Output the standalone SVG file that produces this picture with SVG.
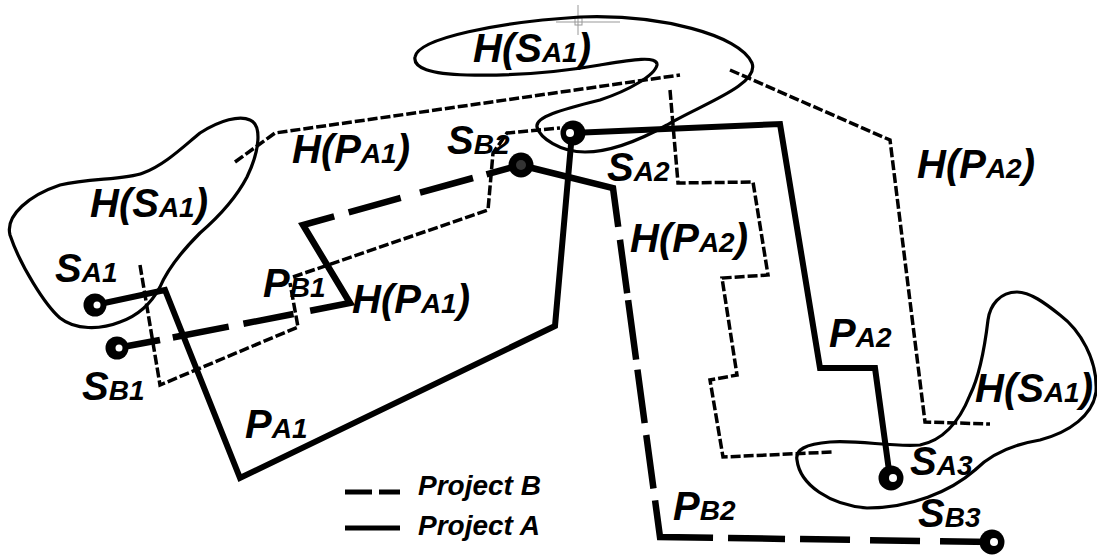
<svg xmlns="http://www.w3.org/2000/svg" width="1097" height="556" viewBox="0 0 1097 556">
<style>
.t{font-family:"Liberation Sans",Arial,sans-serif;font-weight:bold;font-style:italic;font-size:40px;fill:#000}
.s{font-size:28px}
.lg{font-family:"Liberation Sans",Arial,sans-serif;font-weight:bold;font-style:italic;font-size:28px;fill:#000}
.blob{fill:none;stroke:#000;stroke-width:3.2}
.hull{fill:none;stroke:#000;stroke-width:3.5;stroke-dasharray:10 3}
.pa{fill:none;stroke:#000;stroke-width:6;stroke-linejoin:miter}
.pb{fill:none;stroke:#000;stroke-width:6.5;stroke-linejoin:miter}
.node{fill:#000}
.dot{fill:#fff}
</style>
<rect width="1097" height="556" fill="#fff"/>
<g id="artifact" stroke="#999" stroke-width="1" fill="none">
<line x1="578" y1="5" x2="578" y2="35"/>
<line x1="556" y1="22" x2="620" y2="22"/>
<rect x="575" y="18" width="7" height="7"/>
</g>
<g id="hulls">
<path id="hs-left" class="blob" d="M250,120 C262,125 260,150 247,177 C235,200 215,220 200,233 C185,248 168,268 160,287 C152,302 140,315 120,322 C100,330 75,330 60,318 C45,305 20,265 10,235 C5,215 30,195 60,185 C90,178 125,180 143,173 C165,165 185,145 200,133 C220,120 240,115 250,120 Z"/>
<path id="hs-top" class="blob" d="M415,57 C418,38 500,22 580,17 C660,14 740,35 752,63 C760,85 700,105 667,125 C640,140 610,152 585,152 C560,152 540,138 537,127 C535,117 560,110 600,100 C630,90 655,75 657,65 C658,55 630,60 600,65 C560,72 510,76 467,75 C430,74 413,68 415,57 Z"/>
<path id="hs-right" class="blob" d="M1017,292 C1000,292 990,305 988,320 C985,345 980,375 970,395 C960,420 945,440 920,445 C890,447 860,440 830,442 C805,444 795,450 797,460 C800,485 830,505 867,508 C910,508 950,492 975,470 C990,455 1010,445 1040,440 C1070,432 1093,415 1096,392 C1098,360 1080,330 1060,315 C1045,303 1030,292 1017,292 Z"/>
<path id="hpa1-top" class="hull" d="M235,162 L275,133 L680,75"/>
<path id="hpa1-left" class="hull" d="M140,265 L160,385 L298,327 L290,283"/>
<path id="hpa1-right" class="hull" d="M293,277 L488,210 L493,153 L507,133 L560,128"/>
<path id="hpa2-outer" class="hull" d="M730,70 L890,140 L925,422 L990,424"/>
<path id="hpa2-inner" class="hull" d="M670,90 L678,183 L753,182 L768,275 L722,278 L737,375 L710,380 L723,457 L833,452"/>
</g>
<g id="connectors">
<path id="pa1" class="pa" d="M95,305 L165,290 L240,478 L555,326 L572,133"/>
<path id="pa2" class="pa" d="M572,133 L780,124 L820,368 L875,368 L890,478"/>
<path id="pb1-stub" class="pb" d="M117,348 L160,340"/>
<path id="pb1" class="pb" stroke-dasharray="0 13 57 15 51 17 164 15 54 20 55 14 200" d="M160,340 L350,303 L303,225 L520,165"/>
<path id="pb2" class="pb" stroke-dasharray="135 13 54 7 60 10 54 12 54 12 90 15 57 15 50 20 50 20 70" d="M520,165 L613,188 L660,537 L993,542"/>
</g>
<g id="SA1"><circle class="node" cx="95" cy="305" r="11.5"/><circle class="dot" cx="97" cy="305" r="3.5"/></g>
<g id="SB1"><circle class="node" cx="117" cy="348" r="11.5"/><circle class="dot" cx="119" cy="348" r="3.5"/></g>
<g id="SB2"><circle class="node" cx="521" cy="165" r="12.5"/><circle cx="521" cy="165" r="5" fill="#333"/></g>
<g id="SA2"><circle class="node" cx="573" cy="133" r="12.5"/><circle class="dot" cx="570" cy="133" r="4"/></g>
<g id="SA3"><circle class="node" cx="891" cy="478" r="12.5"/><circle class="dot" cx="893" cy="478" r="4"/></g>
<g id="SB3"><circle class="node" cx="992" cy="542" r="12.5"/><circle class="dot" cx="994" cy="542" r="4"/></g>
<g id="labels">
<text class="t" x="90" y="217">H(S<tspan class="s">A1</tspan>)</text>
<text class="t" x="55" y="282">S<tspan class="s">A1</tspan></text>
<text class="t" x="82" y="400">S<tspan class="s">B1</tspan></text>
<text class="t" x="292" y="163">H(P<tspan class="s">A1</tspan>)</text>
<text class="t" x="447" y="154">S<tspan class="s">B2</tspan></text>
<text class="t" x="607" y="181">S<tspan class="s">A2</tspan></text>
<text class="t" x="630" y="252">H(P<tspan class="s">A2</tspan>)</text>
<text class="t" x="917" y="178">H(P<tspan class="s">A2</tspan>)</text>
<text class="t" x="829" y="347">P<tspan class="s">A2</tspan></text>
<text class="t" x="975" y="402">H(S<tspan class="s">A1</tspan>)</text>
<text class="t" x="910" y="475">S<tspan class="s">A3</tspan></text>
<text class="t" x="918" y="527">S<tspan class="s">B3</tspan></text>
<text class="t" x="673" y="520">P<tspan class="s">B2</tspan></text>
<text class="t" x="245" y="438">P<tspan class="s">A1</tspan></text>
<text class="t" x="263" y="297">P<tspan class="s">B1</tspan></text>
<text class="t" x="352" y="313">H(P<tspan class="s">A1</tspan>)</text>
<text class="t" x="473" y="62">H(S<tspan class="s">A1</tspan>)</text>
</g>
<g id="legend">
<line x1="345" y1="492" x2="372" y2="492" stroke="#000" stroke-width="5"/>
<line x1="379" y1="492" x2="400" y2="492" stroke="#000" stroke-width="5"/>
<line x1="345" y1="528" x2="400" y2="528" stroke="#000" stroke-width="5"/>
<text class="lg" x="418" y="495">Project B</text>
<text class="lg" x="418" y="535">Project A</text>
</g>
</svg>
